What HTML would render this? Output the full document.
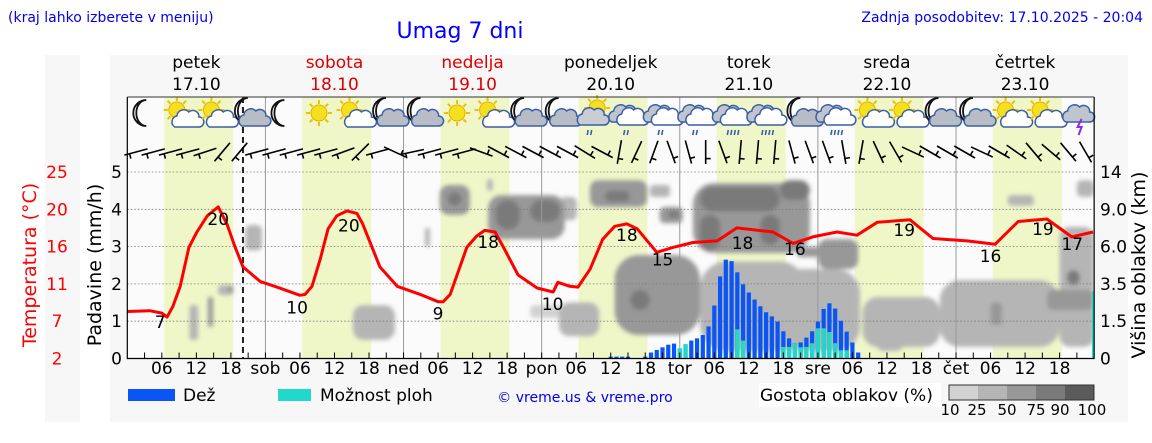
<!DOCTYPE html>
<html><head><meta charset="utf-8"><title>Umag 7 dni</title>
<style>
html,body{margin:0;padding:0;background:#fff;}
svg{display:block;font-family:"DejaVu Sans","Liberation Sans",sans-serif;}
</style></head>
<body>
<svg id="chart" width="1152" height="443" viewBox="0 0 1152 443" xmlns="http://www.w3.org/2000/svg">
<defs>
<filter id="soft" x="-20%" y="-20%" width="140%" height="140%"><feGaussianBlur stdDeviation="2.2"/></filter>
<clipPath id="plotclip"><rect x="127.3" y="97" width="967" height="261.5"/></clipPath>
</defs>
<rect x="0" y="0" width="1152" height="443" fill="#ffffff"/>
<rect x="45" y="55" width="35" height="367" fill="#f7f7f7"/>
<rect x="110" y="55" width="1018" height="367" fill="#f7f7f7"/>
<text x="8" y="22" font-size="14" fill="#0000ee">(kraj lahko izberete v meniju)</text>
<text x="460" y="38" font-size="22" fill="#0000ff" text-anchor="middle">Umag 7 dni</text>
<text x="1143" y="22" font-size="14" fill="#0000ee" text-anchor="end">Zadnja posodobitev: 17.10.2025 - 20:04</text>
<rect x="127.3" y="97" width="967" height="261.5" fill="#fbfbfb"/>
<g id="bands"></g>
<g id="clouds" clip-path="url(#plotclip)" filter="url(#soft)"></g>
<g id="grid"></g>
<g id="icons"></g>
<g id="wind"></g>
<g id="bars"></g>
<g id="temp"></g>
<g id="axes"></g>
<g id="legend"></g>
</svg>
<script>
// ---- data ----
const dayNames = ["petek","sobota","nedelja","ponedeljek","torek","sreda","četrtek"];
const dayDates = ["17.10","18.10","19.10","20.10","21.10","22.10","23.10"];
const dayAbbr = ["","sob","ned","pon","tor","sre","čet"];
const weekendDays = [1,2];
const precipTicks = [0,1,2,3,4,5];
const tempTicks = ["2","7","11","16","20","25"];
const cloudTicks = ["0","1.5","3.5","6.0","9.0","14"];
const sunrise = 6.4, sunset = 18.4;
const nowHour = 20.1;
// temperature curve (hours from Fri 00:00, °C)
const tempHours = [0,3.9,6.0,6.9,7.9,9.2,10.7,12.1,13.9,15.8,17.3,18.7,20.1,23.1,26.0,30.0,30.9,32.1,33.5,34.9,36.4,38.2,39.9,40.9,43.9,46.9,50.9,54.0,54.9,56.1,59.0,60.7,62.1,63.9,65.3,67.9,71.2,74.0,74.8,76.9,78.3,80.4,82.6,84.7,86.8,88.6,92.0,94.8,98.3,102.5,105.9,112.2,115.7,119.1,123.3,126.8,130.3,136.0,140.0,145.9,150.8,154.8,159.8,164.1,167.8];
const tempValues = [7.8,7.9,7.6,7.1,8.4,10.9,15.7,17.6,19.6,20.7,18.6,15.8,13.3,11.5,10.8,9.8,9.9,10.9,14.2,18.0,19.6,20.2,19.9,18.6,13.3,10.9,9.9,9.0,9.0,9.9,15.7,17.1,17.8,17.6,15.8,12.3,10.7,10.2,11.4,10.9,10.8,13.0,16.7,18.3,18.6,18.0,15.1,15.7,16.3,16.5,18.1,17.6,16.2,17.0,17.6,17.2,18.8,19.1,16.8,16.5,16.1,18.9,19.2,17.0,17.6];
// printed temperature labels
const tempLabelHours = [5.7,15.8,29.5,38.5,54,62.7,73.9,86.8,93,106.9,116,135,150,159.1,164.2];
const tempLabelValues = [7,20,10,20,9,18,10,18,15,18,16,19,16,19,17];
const tempLabelDy = [15,18,18,18,18,16,18,17,18,17,18,16,18,16,18];
// hourly precipitation (mm/h)
const rainStartHour = 84;
const rainTotal = [0.05,0.05,0.05,0.05,0,0,0.05,0.16,0.23,0.30,0.37,0.40,0.27,0.38,0.48,0.54,0.63,0.86,1.42,2.20,2.65,2.61,2.31,1.99,1.77,1.58,1.40,1.24,1.13,0.99,0.73,0.54,0.41,0.43,0.56,0.73,0.99,1.33,1.48,1.34,1.01,0.72,0.43,0.16];
const rainShower = [0,0,0,0,0,0,0,0,0,0,0,0,0.27,0.38,0,0,0,0,0,0,0,0,0.78,0.48,0,0,0,0,0,0,0.31,0.31,0.41,0.30,0.31,0.41,0.81,0.81,0.71,0.41,0.22,0.22,0,0];
const showerEndHour = 167.8, showerEndValue = 1.8;
// cloud density patches (hours, axis level 0-5, density %)
const cloudH0 = [10.8,14,15.8,17.5,20.5,39.2,54.3,55.7,51.7,62.7,64,70,70,75.2,80.4,83,90.8,92.5,93.9,98.3,84.7,87.4,99.5,113,99.5,99.5,110,113.4,116.4,127.8,141.2,150,159.8,162,163.3,165,153,62.5,75,120,130];
const cloudH1 = [12.3,14.9,18.2,18.4,23.4,46.5,59.5,58.1,52.6,76,68.2,75.2,76,78.1,90.3,87.3,94.3,96.5,96,118.6,99.5,90.8,118,127.3,113.4,103,113.4,118.6,120.9,141.2,162,152,167.8,168,165.5,168,157.5,63.5,82,127,135];
const cloudL0 = [0.5,0.85,1.7,1.75,2.9,0.5,3.85,4.1,3.0,3.2,3.45,3.66,1.09,3.71,4.06,4.2,4.33,3.63,3.77,2.83,0.63,1.3,0.2,0.2,3.95,2.9,3.05,4.25,2.72,0.31,0.31,0.9,1.3,0.31,1.97,4.33,4.1,4.5,0.6,2.4,0.2];
const cloudL1 = [1.43,1.65,1.97,1.95,3.58,1.43,4.65,4.46,3.5,4.38,4.25,4.25,1.43,4.33,4.78,4.5,4.65,4.06,3.95,4.7,2.77,1.84,2.6,2.4,4.6,3.85,3.85,4.78,2.99,1.65,2.1,1.5,1.84,3.53,2.37,4.78,4.38,4.8,1.5,3.2,1.0];
const cloudDens = [30,50,25,60,30,40,60,85,25,60,85,80,20,40,55,78,30,60,78,65,55,78,45,35,82,78,78,78,50,25,35,50,70,45,78,25,25,25,40,55,30];
// weather icons (every 6 h at 03, 09, 15, 21)
const iconTypes = ["moon","sunc","sunc","moonc","moon","sun","sunc","moonc","moonc","sun","sunc","moonc","moonc","suncr","cr","cr","cr","crr","crr","moonc","crr","sunc","sunc","moonc","moonc","sunc","sunc","storm"];
// wind barb staff angle (deg from vertical), every 3 h
const windAngles = [75,75,75,75,72,40,40,75, 75,75,75,75,70,45,75,-65, 78,75,75,75,-70,-62,-62,-62, -62,-62,-58,-62,10,25,20,-20, -15,0,-20,5,5,5,-15,-20, -20,-10,10,-25,-30,-65,-60,-60, -60,-65,-60,-55,-40,-50,-40,-30];

// ---- scales ----
const X0 = 127.3, HPX = 5.755, Y0 = 358.5, TOPY = 172;
const xOf = h => X0 + h * HPX;
const yMM = v => Y0 - v * (Y0 - TOPY) / 5;
const yT = t => Y0 - (t - 2) * (Y0 - TOPY) / 23;
const NS = "http://www.w3.org/2000/svg";
function mk(tag, attrs, parent, text) {
  const e = document.createElementNS(NS, tag);
  for (const k in attrs) e.setAttribute(k, attrs[k]);
  if (text !== undefined) e.textContent = text;
  parent.appendChild(e);
  return e;
}
const g = id => document.getElementById(id);

// day bands
for (let d = 0; d < 7; d++) {
  const r = mk("rect", {x: xOf(d*24+sunrise), y: 97, width: (sunset-sunrise)*HPX, height: Y0-97, fill: "#eff7c9"}, g("bands"));
  
  
}
// clouds
function densColor(p){ return p>=90?"#5b5b5b":p>=75?"#7a7a7a":p>=50?"#989898":p>=25?"#b5b5b5":"#d2d2d2"; }
const order = cloudDens.map((d,i)=>i).sort((a,b)=>cloudDens[a]-cloudDens[b]);
for (const i of order) {
  const x = xOf(cloudH0[i]), y = yMM(cloudL1[i]);
  const w = xOf(cloudH1[i]) - x, h = yMM(cloudL0[i]) - y;
  const rr = cloudDens[i] >= 75 ? Math.min(w, h) / 2 : Math.min(w, h) * 0.3;
  const c = mk("rect", {x: x, y: y, width: w, height: h, rx: rr, fill: densColor(cloudDens[i])}, g("clouds"));
  
  
}
// grid
for (let v = 1; v <= 5; v++) {
  const l = mk("line", {x1: X0, x2: xOf(168), y1: yMM(v), y2: yMM(v), stroke: "#777", "stroke-width": 0.8, "stroke-dasharray": "1.5,2"}, g("grid"));
  
  
}
for (let d = 1; d < 7; d++) {
  const l = mk("line", {x1: xOf(d*24), x2: xOf(d*24), y1: 97, y2: Y0, stroke: "#999", "stroke-width": 1}, g("grid"));
  
  
}
const nl = mk("line", {x1: xOf(nowHour), x2: xOf(nowHour), y1: 97, y2: Y0, stroke: "#222", "stroke-width": 2, "stroke-dasharray": "6,4"}, g("grid"));



// icons
function cloud(p, cx, cy, fill) {
  mk("path", {d: `M${cx-13},${cy+8} a6,6 0 0 1 2,-11 a7,7 0 0 1 12,-4 a6,6 0 0 1 10,5 a5,5 0 0 1 0,10 z`, fill: fill, stroke: "#3a5fa8", "stroke-width": 1.5}, p);
}
function sun(p, cx, cy) {
  for (let k = 0; k < 8; k++) { const a = k*Math.PI/4; mk("line", {x1: cx+Math.cos(a)*9, y1: cy+Math.sin(a)*9, x2: cx+Math.cos(a)*13, y2: cy+Math.sin(a)*13, stroke: "#f0c000", "stroke-width": 2}, p); }
  mk("circle", {cx: cx, cy: cy, r: 8, fill: "#f5e020", stroke: "#e8b000", "stroke-width": 1}, p);
}
function moon(p, cx, cy) {
  mk("path", {d: `M${cx+3},${cy-13} a13,13 0 1 0 0,26 a10,13 0 0 1 0,-26 z`, fill: "#fff", stroke: "#111", "stroke-width": 1.8}, p);
}
function rain(p, cx, cy, n) {
  for (let k = 0; k < n; k++) mk("line", {x1: cx-5+k*3.5, y1: cy, x2: cx-6+k*3.5, y2: cy+5, stroke: "#3a5fa8", "stroke-width": 1.6}, p);
}
iconTypes.forEach((t, i) => {
  const cx = xOf(i*6+3.3), cy = 113;
  const grp = mk("g", {}, g("icons"));
  
  
  if (t === "moon") moon(grp, cx-3, cy);
  if (t === "moonc") { moon(grp, cx-5, cy-2); cloud(grp, cx+5, cy+5, "#b8bcc4"); }
  if (t === "sun") sun(grp, cx, cy);
  if (t === "sunc") { sun(grp, cx-4, cy-3); cloud(grp, cx+7, cy+6, "#ffffff"); }
  if (t === "suncr") { sun(grp, cx+2, cy-5); cloud(grp, cx-2, cy+4, "#c8ccd4"); rain(grp, cx-2, cy+17, 2); }
  if (t === "cr" || t === "crr") { cloud(grp, cx-5, cy+1, "#c0c4cc"); cloud(grp, cx+3, cy+4, "#ffffff"); rain(grp, cx, cy+17, t === "cr" ? 2 : 4); }
  if (t === "storm") { cloud(grp, cx, cy+1, "#c0c4cc"); mk("path", {d: `M${cx+3},${cy+6} l-4,8 h4 l-3,8`, stroke: "#8a2be2", "stroke-width": 2, fill: "none"}, grp); }
});
// wind barbs
windAngles.forEach((a, i) => {
  const cx = xOf(i*3+1.5), cy = 152, r = a*Math.PI/180;
  const dx = Math.sin(r)*12, dy = -Math.cos(r)*12;
  const grp = mk("g", {stroke: "#000", "stroke-width": 1.6, fill: "none"}, g("wind"));
  
  
  mk("line", {x1: cx-dx, y1: cy-dy, x2: cx+dx, y2: cy+dy}, grp);
  const bx = cx-dx*0.55, by = cy-dy*0.55;
  mk("line", {x1: bx, y1: by, x2: bx + Math.cos(r)*5, y2: by + Math.sin(r)*5}, grp);
});

// precipitation bars
rainTotal.forEach((v, i) => {
  if (v <= 0) return;
  const cx = xOf(rainStartHour + i), w = 4.2;
  const b = mk("rect", {x: cx-w/2, y: yMM(v), width: w, height: Y0 - yMM(v), fill: "#0a55f5"}, g("bars"));
  
  
  const s = rainShower[i];
  if (s > 0) {
    const c = mk("rect", {x: cx-w/2, y: yMM(s), width: w, height: Y0 - yMM(s), fill: "#22d8c8"}, g("bars"));
    
    
  }
});
const se = mk("rect", {x: xOf(showerEndHour)-1, y: yMM(showerEndValue), width: 2.5, height: Y0 - yMM(showerEndValue), fill: "#22d8c8"}, g("bars"));



// temperature line
const tp = mk("path", {d: tempHours.map((h,i)=>(i?"L":"M")+xOf(h).toFixed(1)+","+yT(tempValues[i]).toFixed(1)).join(""), fill: "none", stroke: "#ff0000", "stroke-width": 3, "stroke-linejoin": "round"}, g("temp"));


tempLabelHours.forEach((h, i) => {
  const t = mk("text", {x: xOf(h), y: yT(tempValues[tempHours.findIndex(q=>q>=h)] ?? tempLabelValues[i]) + tempLabelDy[i], "font-size": 17, "text-anchor": "middle", fill: "#000"}, g("temp"), String(tempLabelValues[i]));
  
  
});

// axes
const ax = g("axes");
const frame = mk("path", {d: `M${X0},97 V${Y0} H${xOf(168)} V97`, fill: "none", stroke: "#000", "stroke-width": 1.2}, ax);


const topLine = mk("line", {x1: X0, x2: xOf(168), y1: 97, y2: 97, stroke: "#333", "stroke-width": 1}, ax);


precipTicks.forEach(v => {
  const t = mk("text", {x: 122, y: yMM(v)+6, "font-size": 17, "text-anchor": "end"}, ax, String(v));
  
  
});
tempTicks.forEach((s, i) => {
  const t = mk("text", {x: 57, y: yMM(i)+6, "font-size": 17, "text-anchor": "middle", fill: "#ff0000"}, ax, s);
  
  
});
cloudTicks.forEach((s, i) => {
  const t = mk("text", {x: 1100, y: yMM(i)+6, "font-size": 17}, ax, s);
  
  
});
for (let h = 3; h < 168; h += 3) {
  const l = mk("line", {x1: xOf(h), x2: xOf(h), y1: Y0, y2: Y0-6, stroke: "#000", "stroke-width": 1}, ax);
  
  
}
for (let d = 0; d < 7; d++) {
  const labs = [[0, dayAbbr[d]], [6, "06"], [12, "12"], [18, "18"]];
  labs.forEach(([h, s]) => {
    if (!s) return;
    const t = mk("text", {x: xOf(d*24+h), y: 374, "font-size": 17, "text-anchor": "middle"}, ax, s);
    
    
  });
  const col = weekendDays.includes(d) ? "#dd0000" : "#000";
  const n = mk("text", {x: xOf(d*24+12), y: 68, "font-size": 17, "text-anchor": "middle", fill: col}, ax, dayNames[d]);
  
  
  const dt = mk("text", {x: xOf(d*24+12), y: 90, "font-size": 17, "text-anchor": "middle", fill: col}, ax, dayDates[d]);
  
  
}
</script>
<svg style="position:absolute;left:0;top:0" width="1152" height="443" xmlns="http://www.w3.org/2000/svg" font-family="DejaVu Sans, Liberation Sans, sans-serif">
<text transform="translate(36,265) rotate(-90)" font-size="19" fill="#ff0000" text-anchor="middle">Temperatura (°C)</text>
<text transform="translate(101,265) rotate(-90)" font-size="19" fill="#000" text-anchor="middle">Padavine (mm/h)</text>
<text transform="translate(1145,265) rotate(-90)" font-size="19" fill="#000" text-anchor="middle">Višina oblakov (km)</text>
<rect x="128" y="389" width="47" height="12" fill="#0a55f5"/>
<text x="183" y="401" font-size="17">Dež</text>
<rect x="278" y="389" width="33" height="12" fill="#22d8c8"/>
<text x="320" y="401" font-size="17">Možnost ploh</text>
<text x="585" y="402" font-size="14" fill="#0000ee" text-anchor="middle">© vreme.us &amp; vreme.pro</text>
<rect x="759" y="383" width="182" height="24" fill="#ffffff"/>
<text x="760" y="401" font-size="17">Gostota oblakov (%)</text>
<g>
<rect x="949" y="385" width="29" height="15" fill="#d2d2d2"/>
<rect x="978" y="385" width="29" height="15" fill="#b5b5b5"/>
<rect x="1007" y="385" width="29" height="15" fill="#989898"/>
<rect x="1036" y="385" width="29" height="15" fill="#7a7a7a"/>
<rect x="1065" y="385" width="29" height="15" fill="#5b5b5b"/>
<rect x="949" y="385" width="145" height="15" fill="none" stroke="#333" stroke-width="1"/>
</g>
<g font-size="15" text-anchor="middle">
<text x="950" y="415">10</text><text x="977" y="415">25</text><text x="1007" y="415">50</text><text x="1036" y="415">75</text><text x="1060" y="415">90</text><text x="1092" y="415">100</text>
</g>
</svg>
</body></html>
